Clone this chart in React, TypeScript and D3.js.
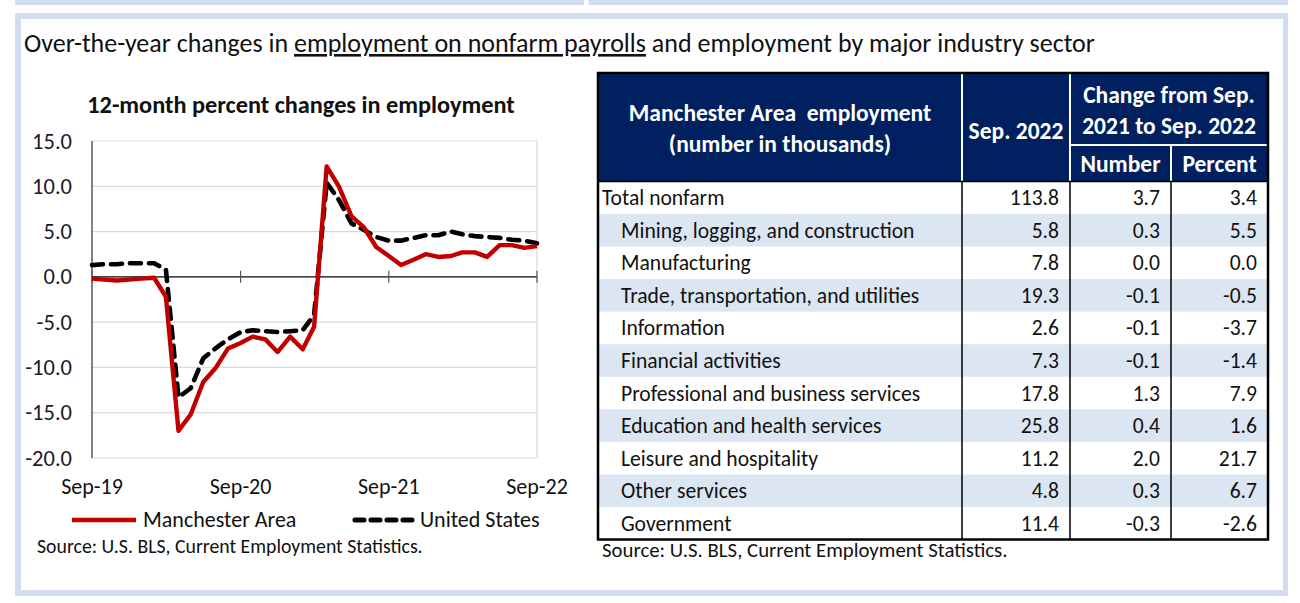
import React from "react";
import * as d3 from "d3";

// ---------- DATA ----------
const months = d3.range(0, 37); // Sep-19 .. Sep-22 (month index)
const startDate = new Date(2019, 8, 1);
const manchester = [
  -0.2, -0.3, -0.4, -0.3, -0.2, -0.1, -2.2, -17.0, -15.2, -11.6, -10.1, -7.9,
  -7.3, -6.6, -6.9, -8.3, -6.6, -8.0, -5.5, 12.2, 10.0, 6.7, 5.5, 3.3,
  2.3, 1.3, 1.9, 2.5, 2.2, 2.3, 2.7, 2.7, 2.2, 3.5, 3.5, 3.2, 3.4,
];
const unitedStates = [
  1.3, 1.4, 1.4, 1.5, 1.5, 1.5, 0.8, -13.3, -12.3, -9.0, -7.9, -6.9,
  -6.1, -5.9, -6.0, -6.1, -6.0, -5.9, -4.2, 10.4, 8.5, 5.9, 5.2, 4.4,
  4.0, 4.0, 4.3, 4.6, 4.6, 5.0, 4.7, 4.5, 4.4, 4.3, 4.1, 4.0, 3.7,
];
const yTicks = [15, 10, 5, 0, -5, -10, -15, -20];
const xTickMonths = [0, 12, 24, 36];
const xTickLabels = ["Sep-19", "Sep-20", "Sep-21", "Sep-22"];
const seriesNames = ["Manchester Area", "United States"];

const industries = [
  "Total nonfarm",
  "Mining, logging, and construction",
  "Manufacturing",
  "Trade, transportation, and utilities",
  "Information",
  "Financial activities",
  "Professional and business services",
  "Education and health services",
  "Leisure and hospitality",
  "Other services",
  "Government",
];
const sep2022 = ["113.8", "5.8", "7.8", "19.3", "2.6", "7.3", "17.8", "25.8", "11.2", "4.8", "11.4"];
const changeNumber = ["3.7", "0.3", "0.0", "-0.1", "-0.1", "-0.1", "1.3", "0.4", "2.0", "0.3", "-0.3"];
const changePercent = ["3.4", "5.5", "0.0", "-0.5", "-3.7", "-1.4", "7.9", "1.6", "21.7", "6.7", "-2.6"];

const FONT = "Carlito, Calibri, Lato, 'Open Sans', sans-serif";
const NAVY = "#002060";
const FRAME = "#d2ddf1";
const SHADE = "#dce6f2";
const RED = "#c00000";

export default function App() {
  // chart scales
  const x = d3
    .scaleTime()
    .domain([startDate, d3.timeMonth.offset(startDate, 36)])
    .range([92, 537]);
  const y = d3.scaleLinear().domain([-20, 15]).range([458, 141]);
  const dateOf = (m: number) => d3.timeMonth.offset(startDate, m);
  const line = d3
    .line<number>()
    .x((_, i) => x(dateOf(months[i])))
    .y((d) => y(d));

  // table layout
  const tX0 = 598, tX1 = 962, tX2 = 1070, tX3 = 1171, tX4 = 1268;
  const tTop = 73, tHeadMid = 145, tHeadBot = 181.5, tBot = 539.5;
  const rowScale = d3.scaleBand<number>().domain(d3.range(industries.length)).range([tHeadBot, tBot]);
  const rh = rowScale.bandwidth();
  const rowFont = 21.6;

  return (
    <svg
      width={1300}
      height={603}
      style={{ position: "absolute", left: 0, top: 0, background: "#fff" }}
      fontFamily={FONT}
    >
      {/* frames */}
      <rect x={15} y={0} width={569} height={5} fill={FRAME} />
      <rect x={588.5} y={0} width={699.5} height={5} fill={FRAME} />
      <rect x={15} y={13} width={1273} height={583} fill={FRAME} />
      <rect x={21} y={19} width={1262} height={571} fill="#fff" />

      {/* main title */}
      <text x={24} y={52} fontSize={26} fill="#111">
        Over-the-year changes in{" "}
        <tspan textDecoration="underline">employment on nonfarm payrolls</tspan> and employment by major industry sector
      </text>

      {/* chart title */}
      <text x={301} y={113} fontSize={24.3} fontWeight="bold" textAnchor="middle" fill="#111">
        12-month percent changes in employment
      </text>

      {/* gridlines */}
      {yTicks.map((t) => (
        <line key={t} x1={92} x2={537} y1={y(t)} y2={y(t)} stroke="#d9d9d9" strokeWidth={1.2} />
      ))}
      <line x1={537} x2={537} y1={y(15)} y2={y(-20)} stroke="#d9d9d9" strokeWidth={1.2} />
      <line x1={92} x2={92} y1={y(15)} y2={y(-20)} stroke="#404040" strokeWidth={1.3} />
      <line x1={92} x2={537} y1={y(0)} y2={y(0)} stroke="#111" strokeWidth={1.4} />
      {xTickMonths.map((m) => (
        <line key={m} x1={x(dateOf(m))} x2={x(dateOf(m))} y1={y(0) - 6} y2={y(0) + 6} stroke="#555" strokeWidth={1.2} />
      ))}
      {yTicks.map((t) => (
        <text key={t} x={72} y={y(t) + 7.5} fontSize={22.5} textAnchor="end" fill="#1a1a2a">
          {t.toFixed(1)}
        </text>
      ))}
      {xTickMonths.map((m, i) => (
        <text key={m} x={x(dateOf(m))} y={494} fontSize={22} textAnchor="middle" fill="#111">
          {xTickLabels[i]}
        </text>
      ))}

      {/* series */}
      <path d={line(unitedStates) || ""} fill="none" stroke="#000" strokeWidth={4.6} strokeDasharray="11,8" strokeLinecap="round" strokeLinejoin="round" />
      <path d={line(manchester) || ""} fill="none" stroke={RED} strokeWidth={4.4} strokeLinejoin="round" />

      {/* legend */}
      <line x1={72} x2={136} y1={520} y2={520} stroke={RED} strokeWidth={4.6} />
      <text x={143} y={527} fontSize={22} fill="#111">{seriesNames[0]}</text>
      <line x1={355} x2={413} y1={520} y2={520} stroke="#000" strokeWidth={5} strokeDasharray="9,7" strokeLinecap="round" />
      <text x={420} y={527} fontSize={22} fill="#111">{seriesNames[1]}</text>
      <text x={37} y={553} fontSize={19.8} fill="#111">Source: U.S. BLS, Current Employment Statistics.</text>

      {/* table header */}
      <rect x={tX0} y={tTop} width={tX4 - tX0} height={tHeadBot - tTop} fill={NAVY} />
      <line x1={tX1} x2={tX1} y1={tTop} y2={tHeadBot} stroke="#fff" strokeWidth={2} />
      <line x1={tX2} x2={tX2} y1={tTop} y2={tHeadBot} stroke="#fff" strokeWidth={2} />
      <line x1={tX3} x2={tX3} y1={tHeadMid} y2={tHeadBot} stroke="#fff" strokeWidth={2} />
      <line x1={tX2} x2={tX4} y1={tHeadMid} y2={tHeadMid} stroke="#fff" strokeWidth={2} />
      <g fill="#fff" fontWeight="bold" fontSize={23.5} textAnchor="middle">
        <text x={(tX0 + tX1) / 2} y={121} xmlSpace="preserve">Manchester Area  employment</text>
        <text x={(tX0 + tX1) / 2} y={152}>(number in thousands)</text>
        <text x={(tX1 + tX2) / 2} y={139}>Sep. 2022</text>
        <text x={(tX2 + tX4) / 2} y={103}>Change from Sep.</text>
        <text x={(tX2 + tX4) / 2} y={134}>2021 to Sep. 2022</text>
        <text x={(tX2 + tX3) / 2} y={172}>Number</text>
        <text x={(tX3 + tX4) / 2} y={172}>Percent</text>
      </g>

      {/* table rows */}
      {industries.map((name, i) => {
        const ry = rowScale(i)!;
        const ty = ry + rh / 2 + 7.5;
        return (
          <g key={name}>
            {i % 2 === 1 && <rect x={tX0} y={ry} width={tX4 - tX0} height={rh} fill={SHADE} />}
            <text x={i === 0 ? 602 : 621} y={ty} fontSize={rowFont} fill="#111">{name}</text>
            <text x={tX2 - 11} y={ty} fontSize={rowFont} textAnchor="end" fill="#111">{sep2022[i]}</text>
            <text x={tX3 - 11} y={ty} fontSize={rowFont} textAnchor="end" fill="#111">{changeNumber[i]}</text>
            <text x={tX4 - 11} y={ty} fontSize={rowFont} textAnchor="end" fill="#111">{changePercent[i]}</text>
          </g>
        );
      })}
      <line x1={tX1} x2={tX1} y1={tHeadBot} y2={tBot} stroke="#000" strokeWidth={1.5} />
      <line x1={tX2} x2={tX2} y1={tHeadBot} y2={tBot} stroke="#000" strokeWidth={1.5} />
      <line x1={tX3} x2={tX3} y1={tHeadBot} y2={tBot} stroke="#000" strokeWidth={1.5} />
      <line x1={tX0} x2={tX4} y1={tHeadBot} y2={tHeadBot} stroke="#000" strokeWidth={1.5} />
      <rect x={tX0} y={tTop} width={tX4 - tX0} height={tBot - tTop} fill="none" stroke="#000" strokeWidth={2.5} />
      <text x={602} y={557} fontSize={20.8} fill="#111">Source: U.S. BLS, Current Employment Statistics.</text>
    </svg>
  );
}
